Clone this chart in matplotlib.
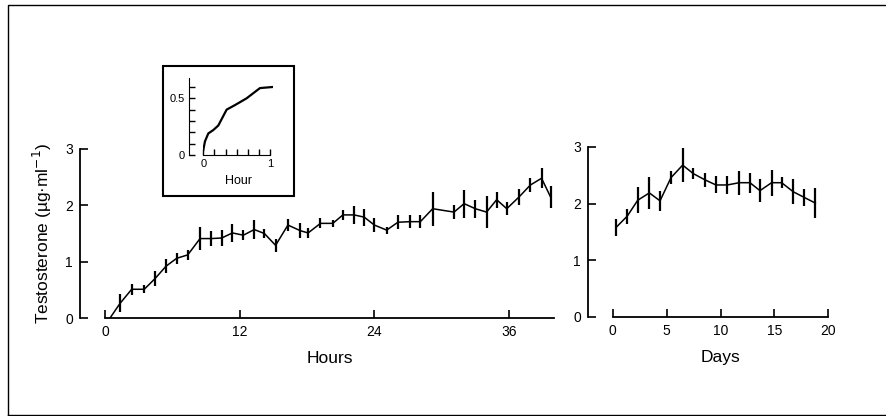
import numpy as np
import matplotlib
matplotlib.use('Agg')
import matplotlib.pyplot as plt
from matplotlib.patches import Rectangle
from matplotlib.lines import Line2D

plt.rcParams['font.family'] = ['Liberation Sans', 'DejaVu Sans']

# --------------------
# data
# --------------------
hours = [0.45, 1.34, 2.38, 3.5, 4.46, 5.44, 6.39, 7.37, 8.47, 9.45, 10.4, 11.35,
         12.33, 13.3, 14.2, 15.2, 16.3, 17.4, 18.1, 19.2, 20.3, 21.2, 22.2, 23.1,
         24.0, 25.1, 26.1, 27.2, 28.1, 29.2, 31.1, 32.0, 33.0, 34.0, 34.9, 35.8,
         36.9, 37.9, 38.9, 39.7]
t_hours = [0.0, 0.26, 0.51, 0.51, 0.70, 0.92, 1.06, 1.12, 1.41, 1.41, 1.42, 1.51,
           1.47, 1.57, 1.50, 1.29, 1.65, 1.55, 1.51, 1.68, 1.68, 1.83, 1.83, 1.79,
           1.65, 1.56, 1.70, 1.71, 1.71, 1.94, 1.88, 2.03, 1.94, 1.88, 2.10, 1.94,
           2.15, 2.36, 2.48, 2.15]
e_hours = [0.0, 0.16, 0.10, 0.07, 0.13, 0.12, 0.10, 0.09, 0.20, 0.14, 0.14, 0.16,
           0.09, 0.17, 0.08, 0.12, 0.11, 0.13, 0.09, 0.09, 0.06, 0.09, 0.16, 0.15,
           0.12, 0.06, 0.12, 0.12, 0.12, 0.30, 0.12, 0.25, 0.16, 0.29, 0.14, 0.12,
           0.14, 0.12, 0.18, 0.19]

days = [0.31, 1.35, 2.32, 3.40, 4.39, 5.41, 6.49, 7.48, 8.56, 9.58, 10.63, 11.74,
        12.73, 13.66, 14.74, 15.67, 16.75, 17.77, 18.80]
t_days = [1.58, 1.78, 2.06, 2.19, 2.05, 2.46, 2.68, 2.53, 2.42, 2.33, 2.33, 2.37,
          2.37, 2.23, 2.37, 2.37, 2.21, 2.11, 2.01]
e_days = [0.15, 0.13, 0.23, 0.28, 0.18, 0.12, 0.30, 0.10, 0.12, 0.15, 0.16, 0.21,
          0.18, 0.20, 0.23, 0.10, 0.22, 0.15, 0.26]

# inset: first hour
ins_h = [0.0, 0.025, 0.075, 0.15, 0.225, 0.35, 0.475, 0.65, 0.85, 1.05]
ins_t = [0.044, 0.12, 0.19, 0.22, 0.26, 0.40, 0.44, 0.50, 0.59, 0.60]

W, H = 887, 416


def px(x0, y0, x1, y1):
    # pixel box (top-left origin) -> figure fraction rect
    return [x0 / W, 1 - y1 / H, (x1 - x0) / W, (y1 - y0) / H]


def style(ax, offset):
    for s in ['top', 'right']:
        ax.spines[s].set_visible(False)
    ax.spines['left'].set_position(('outward', offset))
    ax.spines['left'].set_linewidth(1.3)
    ax.spines['bottom'].set_linewidth(1.3)
    ax.tick_params(direction='in', length=6, width=1.2, labelsize=10, pad=5)


fig = plt.figure(figsize=(W / 100, H / 100), dpi=100)

# --------------------
# hours panel
# --------------------
ax1 = fig.add_axes(px(105, 149, 553.9, 318))
ax1.errorbar(hours, t_hours, yerr=e_hours, color='black', lw=1.1,
             elinewidth=1.6, capsize=0)
ax1.set_xlim(0, 40)
ax1.set_ylim(0, 3)
ax1.set_xticks([0, 12, 24, 36])
ax1.set_yticks([0, 1, 2, 3])
style(ax1, 18)
ax1.set_xlabel('Hours', fontsize=12.5, labelpad=9)
ax1.set_ylabel('Testosterone (µg·ml$^{-1}$)', fontsize=12.5, labelpad=8)

# --------------------
# days panel
# --------------------
ax2 = fig.add_axes(px(612.7, 147, 828.3, 317))
ax2.errorbar(days, t_days, yerr=e_days, color='black', lw=1.1,
             elinewidth=1.6, capsize=0)
ax2.set_xlim(0, 20)
ax2.set_ylim(0, 3)
ax2.set_xticks([0, 5, 10, 15, 20])
ax2.set_yticks([0, 1, 2, 3])
style(ax2, 18)
ax2.set_xlabel('Days', fontsize=12.5, labelpad=9)

# --------------------
# inset
# --------------------
fig.patches.append(Rectangle((163 / W, 1 - 196 / H), 131 / W, 130 / H,
                             transform=fig.transFigure, fill=False,
                             lw=1.5, ec='black'))
ax3 = fig.add_axes(px(203.3, 75.6, 273.3, 155))
ax3.plot(ins_h, ins_t, color='black', lw=1.6)
ax3.set_xlim(0, 1.05)
ax3.set_ylim(0, 0.7)
ax3.set_xticks(np.arange(0, 1.01, 1 / 6))
ax3.set_xticklabels(['0', '', '', '', '', '', '1'])
ax3.set_yticks(np.arange(0, 0.61, 0.1))
ax3.set_yticklabels(['0', '', '', '', '', '0.5', ''])
for s in ['top', 'right']:
    ax3.spines[s].set_visible(False)
ax3.spines['left'].set_position(('outward', 10))
ax3.spines['left'].set_bounds(0, 0.68)
ax3.spines['bottom'].set_bounds(0, 1)
ax3.tick_params(direction='in', length=4, width=1, labelsize=8, pad=3)
ax3.set_xlabel('Hour', fontsize=9, labelpad=4)

# outer frame
fig.add_artist(Line2D([8 / W, 8 / W, 1.0], [1 - 415 / H, 1 - 5 / H, 1 - 5 / H],
                      transform=fig.transFigure, color='black', lw=1.0))
fig.add_artist(Line2D([8 / W, 1.0], [1 - 415 / H, 1 - 415 / H],
                      transform=fig.transFigure, color='black', lw=1.0))

fig.savefig('out.png', dpi=100)
